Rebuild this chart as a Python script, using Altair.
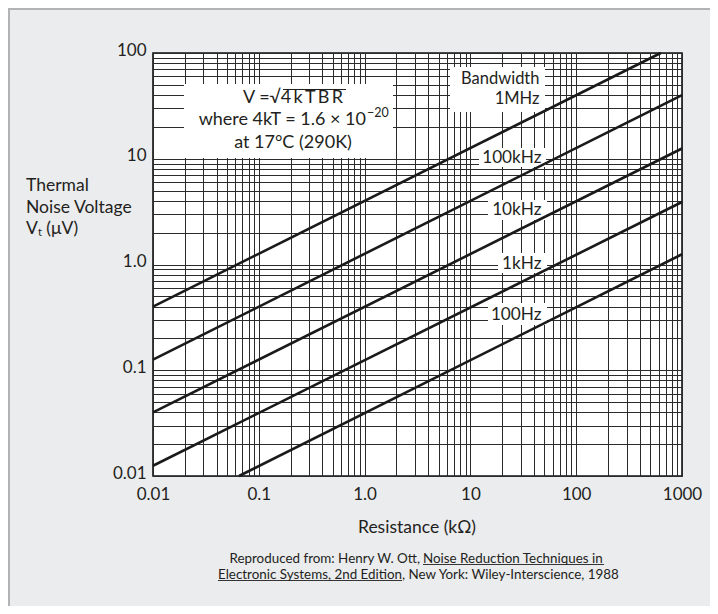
import altair as alt
import pandas as pd

# ---------------- data ----------------
bandwidths = ["1MHz", "100kHz", "10kHz", "1kHz", "100Hz"]
r_start = [0.01, 0.01, 0.01, 0.01, 0.065]      # kOhm
v_start = [0.40, 0.126, 0.040, 0.0125, 0.010]  # uV
r_end = [630, 1000, 1000, 1000, 1000]
v_end = [100, 40, 12.5, 3.9, 1.25]

x_decades = [0.01, 0.1, 1.0, 10.0, 100.0, 1000.0]
x_labels = ["0.01", "0.1", "1.0", "10", "100", "1000"]
y_decades = [0.01, 0.1, 1.0, 10.0, 100.0]
y_labels = ["0.01", "0.1", "1.0", "10", "100"]

FONT = "Lato"
INK = "#231f20"
W, H = 529, 423
PAD = {"left": 145, "top": 45, "right": 28, "bottom": 130}
OX, OY = 153, 53  # page position of the plot origin


def grid_values(decades):
    vals = []
    for d in decades[:-1]:
        vals.append(d)
        for m in range(2, 10):
            vals.append(round(m * d, 10))
    vals.append(decades[-1])
    return vals


def label_expr(decades, labels):
    expr = "''"
    for d, l in reversed(list(zip(decades, labels))):
        expr = f"datum.value == {d!r} ? '{l}' : ({expr})"
    return expr


rows = []
for b, r0, v0, r1, v1 in zip(bandwidths, r_start, v_start, r_end, v_end):
    rows.append({"bw": b, "R": r0, "V": v0})
    rows.append({"bw": b, "R": r1, "V": v1})
lines_df = pd.DataFrame(rows)

xscale = alt.Scale(type="log", domain=[0.01, 1000], nice=False)
yscale = alt.Scale(type="log", domain=[0.01, 100], nice=False)

lines = alt.Chart(lines_df).mark_line(color="#1a1a1a", strokeWidth=2.6).encode(
    x=alt.X("R:Q", scale=xscale,
            axis=alt.Axis(values=grid_values(x_decades),
                          labelExpr=label_expr(x_decades, x_labels),
                          title=None, ticks=False, domain=False,
                          labelPadding=10, labelFontSize=17, labelColor=INK,
                          labelFont=FONT, labelFlush=False, labelOverlap=False,
                          gridColor="#2b2b2b", gridWidth=1, gridOpacity=1)),
    y=alt.Y("V:Q", scale=yscale,
            axis=alt.Axis(values=grid_values(y_decades),
                          labelExpr=label_expr(y_decades, y_labels),
                          title=None, ticks=False, domain=False,
                          labelPadding=7, labelFontSize=17, labelColor=INK,
                          labelFont=FONT, labelFlush=False, labelOverlap=False,
                          labelBaseline="alphabetic", labelOffset=2,
                          gridColor="#2b2b2b", gridWidth=1, gridOpacity=1)),
    detail="bw:N",
)


def px(x):
    return x - OX


def py(y):
    return y - OY


# white annotation boxes (page pixel coordinates)
boxes = pd.DataFrame([
    {"x0": px(184), "x1": px(393), "y0": py(84), "y1": py(158)},
    {"x0": px(450), "x1": px(545), "y0": py(67), "y1": py(112)},
    {"x0": px(479), "x1": px(546), "y0": py(148), "y1": py(167)},
    {"x0": px(488), "x1": px(547), "y0": py(200), "y1": py(220)},
    {"x0": px(498), "x1": px(547), "y0": py(253), "y1": py(273)},
    {"x0": px(488), "x1": px(547), "y0": py(303), "y1": py(325)},
])
box_layer = alt.Chart(boxes).mark_rect(fill="white", stroke=None).encode(
    x=alt.X("x0:Q", scale=None), x2="x1:Q",
    y=alt.Y("y0:Q", scale=None), y2="y1:Q",
)


def texts(items, size, align):
    df = pd.DataFrame([{"t": t, "x": px(x), "y": py(y)} for t, x, y in items])
    return alt.Chart(df).mark_text(font=FONT, fontSize=size, align=align,
                                   baseline="alphabetic", color=INK).encode(
        x=alt.X("x:Q", scale=None), y=alt.Y("y:Q", scale=None), text="t:N")


formula_c = texts([
    ("V =\u221a4\u2009k\u2009T\u2009B\u2009R", 293, 102.5),
    ("at 17\u00b0C (290K)", 293, 148),
], 18, "center")
formula_r = texts([("where 4kT = 1.6 \u00d7 10", 366, 125)], 18, "right")
formula_sup = texts([("\u221220", 367, 116.5)], 12.5, "left")

bw_labels = texts([
    ("Bandwidth", 539.5, 83.5),
    ("1MHz", 539.5, 103.5),
], 16.5, "right")
bw_labels2 = texts([
    ("100kHz", 541.5, 162.5),
    ("10kHz", 541.5, 215),
    ("1kHz", 541.5, 268.5),
    ("100Hz", 541.5, 320),
], 17.2, "right")

y_title = texts([
    ("Thermal", 26, 190.5),
    ("Noise Voltage", 26, 213),
    ("V\u209c (\u03bcV)", 26, 234),
], 17.5, "left")

x_title = texts([("Resistance (k\u03a9)", 417, 532.5)], 17.5, "center")

cap_r = texts([("Reproduced from: Henry W. Ott,", 420, 562.5)], 13.4, "right")
cap_l = texts([
    ("Noise Reduction Techniques in", 423, 562.5),
    ("Electronic Systems, 2nd Edition", 218, 578.5),
    (", New York: Wiley-Interscience, 1988", 402, 578.5),
], 13.4, "left")

rules_df = pd.DataFrame([
    {"x0": px(283), "x1": px(346), "y": py(89.5), "w": 1.2},   # radical bar
    {"x0": px(423), "x1": px(604), "y": py(564.5), "w": 0.9},  # underline 1
    {"x0": px(218), "x1": px(402), "y": py(580.5), "w": 0.9},  # underline 2
])
rules = alt.Chart(rules_df).mark_rule(color=INK).encode(
    x=alt.X("x0:Q", scale=None), x2="x1:Q",
    y=alt.Y("y:Q", scale=None), strokeWidth=alt.StrokeWidth("w:Q", scale=None),
)

frame = alt.Chart(alt.Data(values=[{}])).mark_rect(
    fill="#ebecee", fillOpacity=0, stroke="#b3b3b3", strokeWidth=2).encode(
    x=alt.value(-PAD["left"] + 1), x2=alt.value(W + PAD["right"] + 10),
    y=alt.value(-PAD["top"] + 1), y2=alt.value(H + PAD["bottom"] + 10),
)

chart = alt.layer(
    frame, box_layer, lines, rules, formula_c, formula_r, formula_sup,
    bw_labels, bw_labels2, y_title, x_title, cap_r, cap_l,
).properties(
    width=W, height=H, padding=PAD,
    autosize=alt.AutoSizeParams(type="none"),
    background="#ebecee",
).configure_view(
    fill="white", stroke="#111111", strokeWidth=1.6,
)

chart.save("out.html", embed_options={"renderer": "svg", "actions": False})
